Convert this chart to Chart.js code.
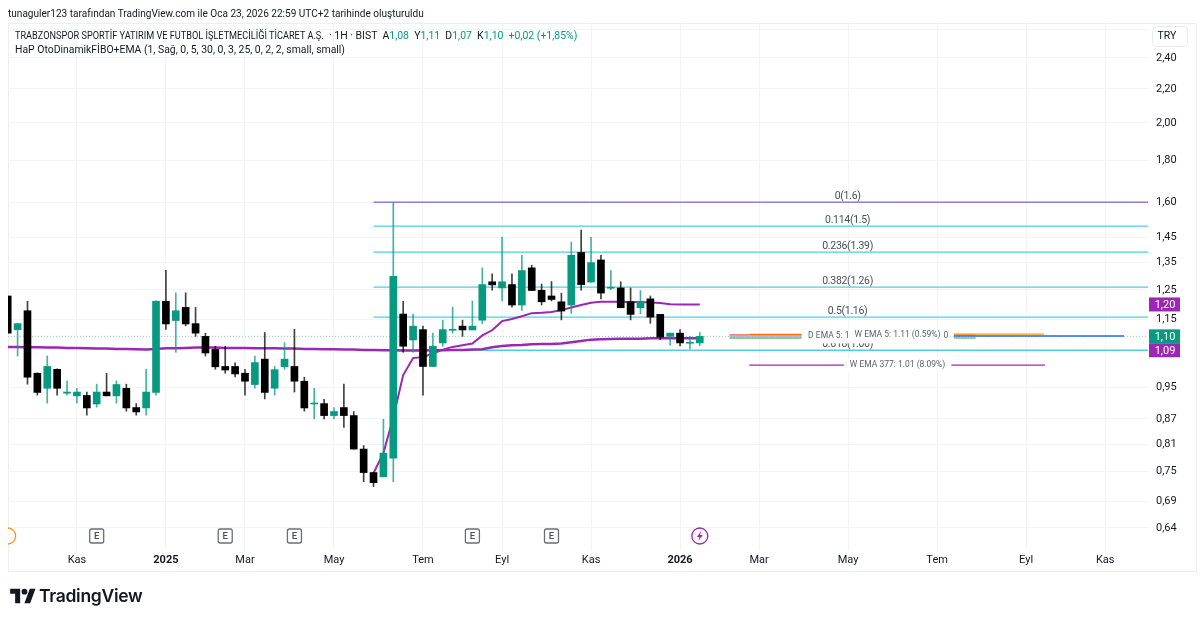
<!DOCTYPE html>
<html lang="tr">
<head>
<meta charset="utf-8">
<title>TSPOR</title>
<script src="https://cdn.jsdelivr.net/npm/chart.js@4/dist/chart.umd.min.js"></script>
<style>
  body { margin: 0; background: #fff; width: 1200px; height: 620px; overflow: hidden; position: relative; font-family: Roboto, sans-serif; color: #131722; }
  canvas { position: absolute; left: 0; top: 0; }
  .txt { position: absolute; white-space: nowrap; transform-origin: left center; }
  #credit { left: 8px; top: 6px; font-size: 11.5px; line-height: 14px; transform: scaleX(.875); }
  #symbol { left: 15px; top: 28px; font-size: 11.5px; line-height: 14px; transform: scaleX(.797); }
  #quote { left: 329px; top: 28px; font-size: 11.5px; line-height: 14px; transform: scaleX(.91); }
  #quote span { color: #089981; }
  #study { left: 15px; top: 42px; font-size: 11.5px; line-height: 14px; transform: scaleX(.905); }
  #brand { left: 39px; top: 584px; font-size: 17.5px; line-height: 24px; font-family: Inter, sans-serif; font-weight: 600; letter-spacing: -.3px; }
  #logo { position: absolute; left: 10px; top: 586px; }
</style>
</head>
<body>
<canvas id="chart" width="1200" height="620"></canvas>
<div class="txt" id="credit">tunaguler123 tarafından TradingView.com ile Oca 23, 2026 22:59 UTC+2 tarihinde oluşturuldu</div>
<div class="txt" id="symbol">TRABZONSPOR SPORTİF YATIRIM VE FUTBOL İŞLETMECİLİĞİ TİCARET A.Ş.</div>
<div class="txt" id="quote">· 1H · BIST &nbsp;A<span>1,08</span> &nbsp;Y<span>1,11</span> &nbsp;D<span>1,07</span> &nbsp;K<span>1,10</span> &nbsp;<span>+0,02 (+1,85%)</span></div>
<div class="txt" id="study">HaP OtoDinamikFİBO+EMA (1, Sağ, 0, 5, 30, 0, 3, 25, 0, 2, 2, small, small)</div>
<svg id="logo" width="26" height="20" viewBox="0 0 36 28"><path fill="#131722" d="M14 24H7V11H0V4h14v20zM28 24h-8l7.5-20h8L28 24z"/><circle fill="#131722" cx="20" cy="8" r="4"/></svg>
<div class="txt" id="brand">TradingView</div>

<script>
// Weekly candles, index 0 is the first (clipped) week on the left
const opens = [1.229,1.118,1.179,0.989,0.948,1.000,0.935,0.928,0.929,0.907,0.938,0.928,0.948,0.898,0.897,0.937,1.211,1.147,1.190,1.137,
  1.097,1.058,1.008,1.008,0.989,0.958,1.029,0.948,1.007,1.008,0.967,0.907,0.908,0.878,0.898,0.878,0.799,0.748,0.739,0.779,
  1.168,1.086,1.118,1.008,1.077,1.116,1.129,1.117,1.148,1.279,1.257,1.269,1.198,1.330,1.249,1.229,1.209,1.198,1.389,1.278,
  1.360,1.256,1.257,1.209,1.189,1.219,1.167,1.097,1.107,1.076,1.077];
const highs = [1.229,1.138,1.211,0.990,1.038,1.001,0.968,0.948,0.938,0.959,0.989,0.968,0.959,0.908,1.000,1.212,1.321,1.240,1.240,1.190,
  1.107,1.067,1.067,1.018,1.000,1.038,1.109,1.008,1.078,1.119,0.978,0.948,0.919,0.898,0.959,0.888,0.807,0.748,0.869,1.597,
  1.211,1.168,1.129,1.107,1.148,1.191,1.148,1.212,1.330,1.308,1.450,1.308,1.378,1.340,1.271,1.280,1.239,1.430,1.479,1.449,
  1.378,1.320,1.279,1.257,1.248,1.229,1.167,1.107,1.118,1.097,1.109];
const lows = [1.107,1.038,0.959,0.930,0.909,0.930,0.930,0.909,0.879,0.899,0.928,0.909,0.889,0.879,0.879,0.930,1.119,1.049,1.130,1.097,
  1.038,1.000,0.989,0.979,0.930,0.948,0.920,0.930,1.000,0.938,0.889,0.870,0.870,0.870,0.849,0.799,0.729,0.719,0.739,0.729,
  1.049,1.049,0.930,1.008,1.067,1.107,1.097,1.117,1.137,1.249,1.212,1.191,1.180,1.248,1.198,1.212,1.149,1.170,1.249,1.278,
  1.219,1.251,1.189,1.149,1.169,1.138,1.087,1.070,1.068,1.059,1.069];
const closes = [1.107,1.137,0.978,0.937,1.008,0.948,0.938,0.938,0.897,0.938,0.928,0.958,0.897,0.887,0.938,1.211,1.136,1.179,1.136,1.107,
  1.047,1.007,0.998,0.987,0.967,1.019,0.937,0.999,1.029,0.967,0.897,0.909,0.878,0.888,0.878,0.799,0.748,0.727,0.790,1.299,
  1.067,1.129,1.008,1.067,1.118,1.119,1.117,1.129,1.269,1.268,1.279,1.198,1.320,1.248,1.209,1.217,1.178,1.378,1.269,1.350,
  1.239,1.258,1.189,1.167,1.209,1.158,1.095,1.107,1.077,1.078,1.097];

// Purple moving averages (thin one starts at week 37)
const emaThick = [1.065,1.065,1.064,1.064,1.063,1.063,1.062,1.062,1.061,1.060,1.060,1.059,1.059,1.058,1.057,1.059,1.061,1.061,1.062,1.063,
  1.063,1.063,1.062,1.062,1.062,1.061,1.061,1.061,1.060,1.060,1.059,1.059,1.058,1.058,1.057,1.057,1.056,1.056,1.055,1.055,
  1.054,1.054,1.054,1.055,1.055,1.056,1.056,1.057,1.058,1.064,1.068,1.070,1.071,1.073,1.074,1.074,1.075,1.079,1.083,1.087,
  1.088,1.089,1.090,1.090,1.090,1.091,1.091,1.091,1.091,1.091,1.091];
const emaThinStart = 37;
const emaThin = [0.747,0.790,0.874,0.984,1.032,1.035,1.045,1.057,1.065,1.070,1.075,1.100,1.116,1.145,1.152,1.161,1.171,1.172,1.175,1.181,
  1.190,1.198,1.206,1.209,1.209,1.209,1.208,1.208,1.207,1.205,1.201,1.200,1.200,1.200];

// Fibonacci levels
const fibStart = 37;
const fibPrices = [1.6,1.4955,1.390,1.260,1.158,1.055];
const fibLabels = ['0(1.6)','0.114(1.5)','0.236(1.39)','0.382(1.26)','0.5(1.16)','0.618(1.06)'];
const fibLabelIdx = [84.95,84.95,84.95,84.95,84.95,84.95];
const fibColors = ['#673ab7','#4dd0e1','#4dd0e1','#4dd0e1','#4dd0e1','#4dd0e1'];
const fibWidths = [1,1.3,1.3,1.3,1.3,1.3];

// Short EMA projection segments on the right
const segStart = [73,75,73,73,95.7,95.7,95.7,95.7];
const segEnd = [75,80.3,80.3,80.3,104.8,97.9,112.9,97.9];
const segPrices = [1.102,1.103,1.098,1.092,1.104,1.101,1.098,1.092];
const segColors = ['#f77c80','#ff6d00','#9aa9dc','#66bb6a','#ff9800','#f4511e','#2962ff','#66bb6a'];
const wema377Start = [75,94.95];
const wema377End = [85,104.9];
const wema377Price = 1.012;

const emaLabels = ['D EMA 5: 1.09 (0.98%)','W EMA 5: 1.11 (0.59%)','W EMA 377: 1.01 (8.09%)'];
const emaLabelIdx = [85.2,90,90];
const emaLabelPrices = [1.097,1.103,1.012];

// Axis
const xMin = 0.03;
const xMax = 115.33;
const timeTicks = [7,16,24,33,42,50,59,68,76,85,94,103,111];
const timeLabels = ['Kas','2025','Mar','May','Tem','Eyl','Kas','2026','Mar','May','Tem','Eyl','Kas'];
const priceMin = 0.6016;
const priceMax = 2.648;
const priceTicks = [2.6,2.4,2.2,2.0,1.8,1.6,1.45,1.35,1.25,1.15,0.95,0.87,0.81,0.75,0.69,0.64];

// Last value tags on the price axis
const lastPrice = 1.097;
const tagLabels = ['1,20','1,10','1,09'];
const tagPrices = [1.200,1.097,1.055];
const tagColors = ['#9c27b0','#089981','#9c27b0'];

// Event marks under the candles
const earningsIdx = [9,22,29,47,55];
const dividendIdx = [0];
const flashIdx = [70];

const green = '#089981';
const indexes = opens.map((v, i) => i);
const candleColors = indexes.map(i => closes[i] >= opens[i] ? green : '#000000');
const wickColors = indexes.map(i => closes[i] >= opens[i] ? 'rgba(8,153,129,0.75)' : 'rgba(0,0,0,0.75)');

function lineSet(points, color, width, extra) {
    return Object.assign({
        type: 'line',
        data: points,
        borderColor: color,
        borderWidth: width,
        pointRadius: 0,
        tension: 0,
        order: 5
    }, extra || {});
}

const datasets = [
    {
        type: 'bar',
        data: indexes.map(i => ({ x: i, y: [Math.min(opens[i], closes[i]), Math.max(opens[i], closes[i])] })),
        backgroundColor: candleColors,
        barThickness: 7,
        minBarLength: 1,
        grouped: false,
        order: 1
    },
    {
        type: 'bar',
        data: indexes.map(i => ({ x: i, y: [lows[i], highs[i]] })),
        backgroundColor: wickColors,
        barThickness: 1,
        grouped: false,
        order: 2
    },
    lineSet(indexes.map(i => ({ x: i, y: emaThick[i] })), '#9c27b0', 2.5, { order: 3 }),
    lineSet(emaThin.map((v, i) => ({ x: emaThinStart + i, y: v })), '#9c27b0', 2, { order: 3 }),
    lineSet([{ x: xMin, y: lastPrice }, { x: xMax, y: lastPrice }], 'rgba(8,153,129,0.45)', 1, { borderDash: [1, 2], order: 6 }),
    lineSet([{ x: wema377Start[0], y: wema377Price }, { x: wema377End[0], y: wema377Price }], '#9c27b0', 1.2),
    lineSet([{ x: wema377Start[1], y: wema377Price }, { x: wema377End[1], y: wema377Price }], '#9c27b0', 1.2)
];

fibPrices.forEach((p, i) => {
    datasets.push(lineSet([{ x: fibStart, y: p }, { x: xMax, y: p }], fibColors[i], fibWidths[i], { order: 4 }));
});
segPrices.forEach((p, i) => {
    datasets.push(lineSet([{ x: segStart[i], y: p }, { x: segEnd[i], y: p }], segColors[i], 1.4));
});

// Things Chart.js has no element for: frame, labels on the lines, tags, events
const overlay = {
    id: 'overlay',
    beforeDraw(chart) {
        const c = chart.ctx;
        c.save();
        c.strokeStyle = '#eceef1';
        c.lineWidth = 1;
        c.strokeRect(8.5, 23.5, 1188, 548);
        c.restore();
    },
    afterDraw(chart) {
        const c = chart.ctx;
        const x = chart.scales.x;
        const y = chart.scales.y;
        c.save();
        c.textBaseline = 'middle';

        // fib labels
        c.textAlign = 'center';
        c.font = '10.5px Roboto';
        c.letterSpacing = '-0.3px';
        c.fillStyle = '#4a4e57';
        fibLabels.forEach((t, i) => {
            c.fillText(t, x.getPixelForValue(fibLabelIdx[i]), y.getPixelForValue(fibPrices[i]) - 5.5);
        });
        c.letterSpacing = '0px';

        // white backed EMA labels
        c.font = '8.5px Roboto';
        emaLabels.forEach((t, i) => {
            const px = x.getPixelForValue(emaLabelIdx[i]);
            const py = y.getPixelForValue(emaLabelPrices[i]);
            const w = c.measureText(t).width;
            c.fillStyle = '#ffffff';
            c.fillRect(px - w / 2 - 6, py - 7, w + 12, 14);
            c.fillStyle = '#5d606b';
            c.fillText(t, px, py);
        });
        c.fillText('0', 946, y.getPixelForValue(lastPrice));

        // price tags
        c.font = '11px Roboto';
        tagLabels.forEach((t, i) => {
            const py = y.getPixelForValue(tagPrices[i]);
            c.fillStyle = tagColors[i];
            c.fillRect(1149, py - 7, 31, 14);
            c.fillStyle = '#ffffff';
            c.fillText(t, 1165, py + 0.5);
        });

        // currency box
        c.fillStyle = '#ffffff';
        c.strokeStyle = '#e8eaee';
        c.beginPath();
        c.roundRect(1152.5, 26.5, 35, 20, 4);
        c.fill();
        c.stroke();
        c.fillStyle = '#131722';
        c.font = '10.5px Roboto';
        c.fillText('TRY', 1167, 36.5);

        // event marks
        const ey = 536;
        c.lineWidth = 1.3;
        earningsIdx.forEach(i => {
            const px = x.getPixelForValue(i);
            c.strokeStyle = '#6a6d78';
            c.fillStyle = '#ffffff';
            c.beginPath();
            c.roundRect(px - 7, ey - 7, 14, 14, 2);
            c.fill();
            c.stroke();
            c.fillStyle = '#4a4e57';
            c.font = '500 9.5px Roboto';
            c.fillText('E', px, ey + 0.5);
        });
        c.save();
        c.beginPath();
        c.rect(8, 500, 100, 60);
        c.clip();
        dividendIdx.forEach(i => {
            c.strokeStyle = '#ff9800';
            c.fillStyle = '#ffffff';
            c.beginPath();
            c.arc(x.getPixelForValue(i), ey, 8, 0, Math.PI * 2);
            c.fill();
            c.stroke();
        });
        c.restore();
        flashIdx.forEach(i => {
            const px = x.getPixelForValue(i);
            c.strokeStyle = '#9c27b0';
            c.fillStyle = '#ffffff';
            c.beginPath();
            c.arc(px, ey, 8, 0, Math.PI * 2);
            c.fill();
            c.stroke();
            // lightning bolt
            c.fillStyle = '#9c27b0';
            c.beginPath();
            c.moveTo(px + 1.5, ey - 5);
            c.lineTo(px - 3, ey + 1);
            c.lineTo(px - 0.3, ey + 1);
            c.lineTo(px - 1.5, ey + 5);
            c.lineTo(px + 3, ey - 1);
            c.lineTo(px + 0.3, ey - 1);
            c.closePath();
            c.fill();
        });
        c.restore();
    }
};

new Chart(document.getElementById('chart'), {
    data: { datasets: datasets },
    options: {
        responsive: false,
        animation: false,
        events: [],
        layout: { padding: { top: 23, bottom: 48, left: 8, right: 0 } },
        plugins: { legend: { display: false }, tooltip: { enabled: false } },
        scales: {
            x: {
                type: 'linear',
                min: xMin,
                max: xMax,
                offset: false,  // bar charts switch this on by default
                bounds: 'data',
                afterBuildTicks: scale => { scale.ticks = timeTicks.map(v => ({ value: v })); },
                afterFit: scale => {
                    scale.height = 22;
                    scale.paddingLeft = 0;
                    scale.paddingRight = 0;
                },
                border: { display: false },
                grid: { color: '#f3f4f6', drawTicks: false, offset: false },
                ticks: {
                    autoSkip: false,
                    maxRotation: 0,
                    padding: 4,
                    color: '#131722',
                    callback: v => timeLabels[timeTicks.indexOf(v)],
                    font: ctx => ({
                        family: 'Roboto',
                        size: 11,
                        weight: ctx.tick && String(ctx.tick.label).startsWith('20') ? 'bold' : 'normal'
                    })
                }
            },
            y: {
                type: 'logarithmic',
                position: 'right',
                min: priceMin,
                max: priceMax,
                bounds: 'data',
                afterBuildTicks: scale => { scale.ticks = priceTicks.map(v => ({ value: v })); },
                afterFit: scale => {
                    scale.width = 52;
                    scale.paddingTop = 0;
                    scale.paddingBottom = 0;
                },
                border: { display: false },
                grid: { color: '#f3f4f6', drawTicks: false },
                ticks: {
                    autoSkip: false,
                    padding: 8,
                    color: '#131722',
                    font: { family: 'Roboto', size: 11 },
                    // the 2,60 line has no label, it sits behind the TRY box
                    callback: v => v > 2.5 ? '' : v.toFixed(2).replace('.', ',')
                }
            }
        }
    },
    plugins: [overlay]
});
</script>
</body>
</html>
